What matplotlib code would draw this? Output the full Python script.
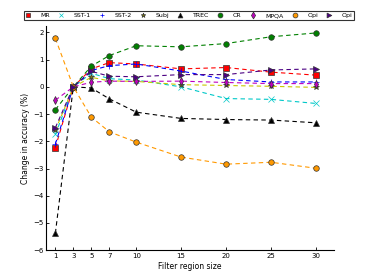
import matplotlib
matplotlib.use("Agg")
import matplotlib.pyplot as plt
from matplotlib.lines import Line2D

sizes = [1, 3, 5, 7, 10, 15, 20, 25, 30]
mr = [-2.23, 0, 0.66, 0.89, 0.84, 0.66, 0.71, 0.54, 0.43]
sst1 = [-1.75, 0, 0.50, 0.30, 0.25, 0.00, -0.43, -0.46, -0.61]
sst2 = [-2.10, 0, 0.60, 0.78, 0.84, 0.58, 0.27, 0.18, 0.18]
subj = [-1.60, 0, 0.35, 0.22, 0.20, 0.08, 0.05, 0.02, -0.02]
trec = [-5.38, 0, -0.04, -0.44, -0.93, -1.16, -1.20, -1.22, -1.32]
cr = [-0.84, 0, 0.76, 1.15, 1.51, 1.47, 1.59, 1.84, 1.98]
mpqa = [-0.49, 0, 0.17, 0.21, 0.20, 0.21, 0.16, 0.12, 0.12]
opi = [1.78, 0, -1.11, -1.65, -2.03, -2.58, -2.84, -2.77, -2.99]
opi2 = [-1.50, 0, 0.57, 0.39, 0.37, 0.45, 0.45, 0.62, 0.66]

series = [
    ("MR", mr, "#ff0000", "s"),
    ("SST-1", sst1, "#00c8c8", "x"),
    ("SST-2", sst2, "#0000ff", "+"),
    ("Subj", subj, "#c8c800", "*"),
    ("TREC", trec, "#000000", "^"),
    ("CR", cr, "#008000", "o"),
    ("MPQA", mpqa, "#bf00bf", "d"),
    ("Opi", opi, "#ff9900", "o"),
    ("Opi", opi2, "#4b0082", ">"),
]

fig = plt.figure(figsize=(3.71, 2.78), dpi=100)
ax = fig.add_axes([0.125, 0.10, 0.775, 0.805])

handles = []
for name, vals, col, mk in series:
    mec = col if mk in ("x", "+") else "#333333"
    face = col if name != "Subj" else "#808000"
    ax.plot(sizes, vals, linestyle=(0, (4, 3)), color=col, linewidth=0.8,
            marker=mk, markersize=4, markerfacecolor=face,
            markeredgecolor=mec, markeredgewidth=0.5)
    handles.append(Line2D([], [], linestyle="none", marker=mk, markersize=3.5,
                          color=col, markerfacecolor=face,
                          markeredgecolor=mec, markeredgewidth=0.5, label=name))

ax.set_xlim(0, 32)
ax.set_ylim(-6, 2.22)
ax.set_xticks(sizes)
ax.set_yticks(range(-6, 3))
ax.spines["top"].set_visible(False)
ax.spines["right"].set_visible(False)
ax.tick_params(direction="in", length=2.5, width=0.6, labelsize=5, pad=2,
               top=False, right=False)
for s in ax.spines.values():
    s.set_linewidth(0.8)
ax.set_xlabel("Filter region size", fontsize=5.5, labelpad=2)
ax.set_ylabel("Change in accuracy (%)", fontsize=5.5, labelpad=2)

leg = fig.legend(handles=handles, loc="center", bbox_to_anchor=(0.51, 0.944),
                 ncol=9, fontsize=4.5, frameon=True, fancybox=False,
                 handlelength=0.6, handletextpad=1.7, columnspacing=1.5,
                 borderpad=0.3, borderaxespad=0)
leg.get_frame().set_edgecolor("black")
leg.get_frame().set_linewidth(0.8)

fig.savefig("out.png", dpi=100)
